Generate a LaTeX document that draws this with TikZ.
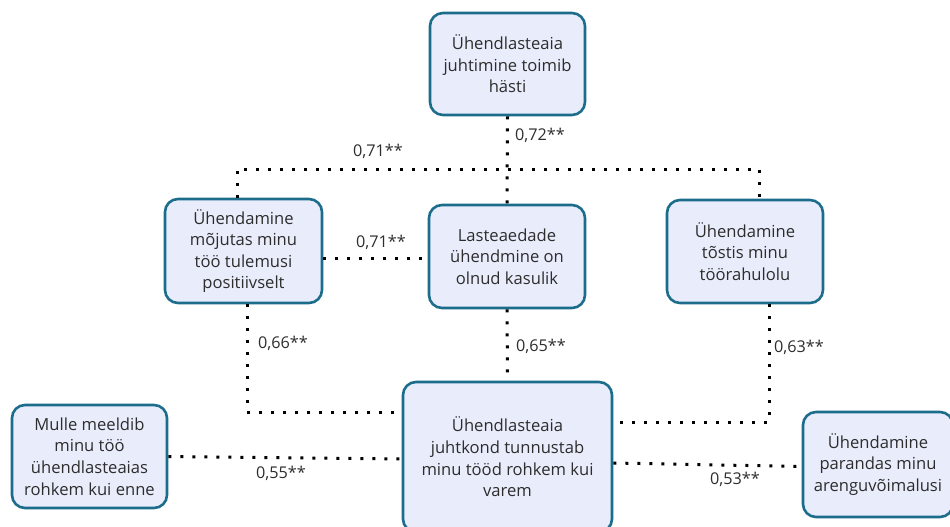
\documentclass[tikz,border=0pt]{standalone}
\usepackage{fontspec}
\setmainfont{Open Sans}
\definecolor{boxline}{RGB}{28,108,140}
\definecolor{boxfill}{RGB}{233,236,251}
\definecolor{txt}{RGB}{45,45,45}
\tikzset{
  card/.style={draw=boxline, line width=2.6pt, fill=boxfill, rounded corners=13pt,
    text=txt, align=center, inner sep=0pt,
    font=\fontsize{16.6pt}{21.6pt}\selectfont},
  coef/.style={text=txt, inner sep=0pt, font=\fontsize{16.2pt}{18pt}\selectfont},
  link/.style={line width=3pt, dash pattern=on 3pt off 9pt, black}
}
\begin{document}
\begin{tikzpicture}[x=1pt,y=-1pt]
\useasboundingbox (0,0) rectangle (950,527);
\clip (0,0) rectangle (950,527);

% boxes
\node[card, minimum width=155pt, minimum height=102pt] (top) at (507.5,64)
  {Ühendlasteaia\\juhtimine toimib\\hästi};
\node[card, minimum width=157pt, minimum height=104pt] (res) at (243.5,251)
  {Ühendamine\\mõjutas minu\\töö tulemusi\\positiivselt};
\node[card, minimum width=156pt, minimum height=103pt] (use) at (507,256.5)
  {Lasteaedade\\ühendmine on\\olnud kasulik};
\node[card, minimum width=156pt, minimum height=103pt] (sat) at (745,251.5)
  {Ühendamine\\tõstis minu\\töörahulolu};
\node[card, minimum width=155pt, minimum height=103pt] (like) at (89.5,456.5)
  {Mulle meeldib\\minu töö\\ühendlasteaias\\rohkem kui enne};
\node[card, minimum width=209pt, minimum height=150pt] (lead) at (507.5,457)
  {Ühendlasteaia\\juhtkond tunnustab\\minu tööd rohkem kui\\varem};
\node[card, minimum width=150pt, minimum height=105pt] (dev) at (878,464.5)
  {Ühendamine\\parandas minu\\arenguvõimalusi};

% routing points
\coordinate (hl) at (237,169);
\coordinate (hr) at (759,169);
\coordinate (mid) at (0,258);
\coordinate (lcorner) at (247,412);
\coordinate (rcorner) at (769,422);

% connectors
\draw[link] (top.south) -- (use.north);
\draw[link] (res.north -| hl) -- (hl) -- (hr) -- (sat.north -| hr);
\draw[link] (res.east |- mid) -- (use.west |- mid);
\draw[link] (res.south -| lcorner) -- (lcorner) -- (lead.west |- lcorner);
\draw[link] (use.south) -- (lead.north);
\draw[link] (sat.south -| rcorner) -- (rcorner) -- (lead.east |- rcorner);
\draw[link] (like.east) -- ([yshift=-2pt]lead.west);
\draw[link] ([yshift=-6pt]lead.east) -- ([yshift=-2pt]dev.west);

% coefficients
\node[coef] (c1) at (540,135) {0,72**};
\node[coef] (c2) at (378,151) {0,71**};
\node[coef] (c3) at (381,242) {0,71**};
\node[coef] (c4) at (283,343) {0,66**};
\node[coef] (c5) at (541,346) {0,65**};
\node[coef] (c6) at (799,347) {0,63**};
\node[coef] (c7) at (281,473) {0,55**};
\node[coef] (c8) at (735,479) {0,53**};
\end{tikzpicture}
\end{document}
